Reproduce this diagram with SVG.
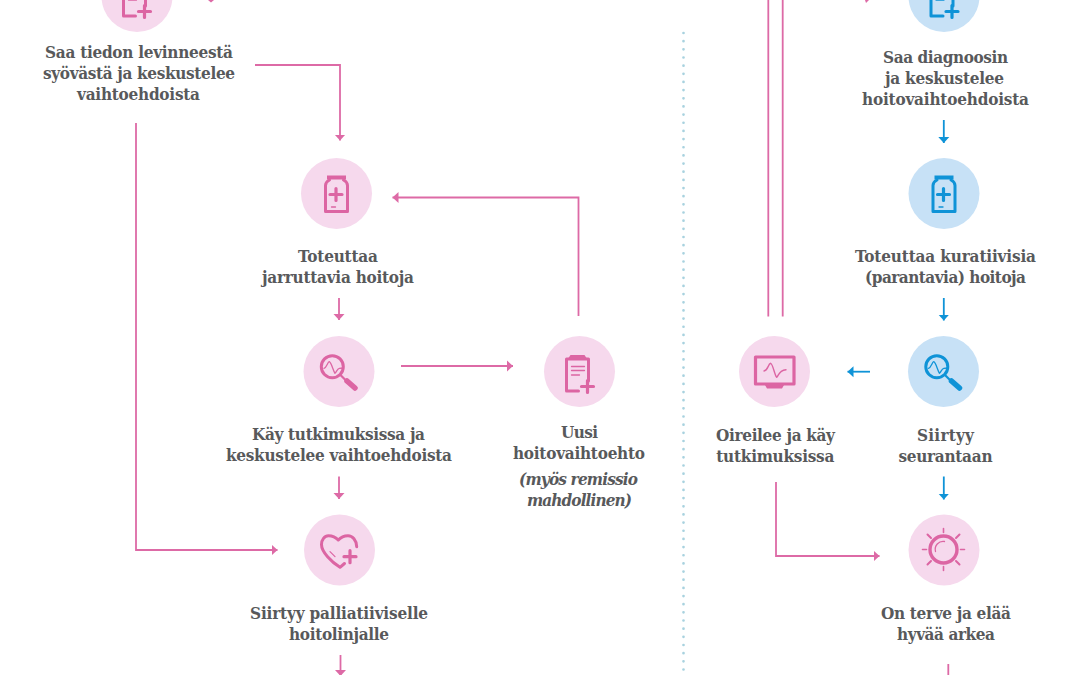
<svg xmlns="http://www.w3.org/2000/svg" width="1080" height="675" viewBox="0 0 1080 675">
<style>
text{font-family:"DejaVu Serif Condensed","Liberation Serif",serif;font-size:17px;font-weight:700;fill:#58595b;text-anchor:middle}
.it{font-style:italic}
.bp{fill:#f6d9ed}.bb{fill:#c7e1f6}
.ip{color:#dc65a3}.ib{color:#0f93d7}
.cp,.cb{fill:none;stroke-width:1.8}
.cp{stroke:#dd6aa6}.cb{stroke:#0f93d7}
.hp{fill:#dd6aa6}.hb{fill:#0f93d7}
.ic{fill:none;stroke:currentColor;stroke-linejoin:round;stroke-linecap:round}
.fl{fill:currentColor;stroke:none}
</style>
<defs>
<marker id="ap" markerUnits="userSpaceOnUse" markerWidth="12" markerHeight="12" refX="6" refY="6" orient="auto"><path class="hp" d="M0 .5L6 6L0 11.500Z"/></marker>
<marker id="ab" markerUnits="userSpaceOnUse" markerWidth="12" markerHeight="12" refX="6" refY="6" orient="auto"><path class="hb" d="M0 .5L6 6L0 11.500Z"/></marker>
<g id="clip">
<path class="ic" stroke-width="3" stroke-linejoin="miter" d="M-1 19.500H-13V-12.500H9V9.500"/>
<path class="fl" d="M-9-16.500H5L8-12H-12Z"/>
<path class="ic" stroke-width="1.300" d="M-8-5H5M-8-1H5M-8 3.500H0"/>
<path class="ic" stroke-width="3.200" stroke-linecap="butt" d="M2 15H14M8 9V21"/>
</g>
<g id="jar">
<path class="fl" d="M-9.500-18H9.500V-14H-9.500Z"/>
<path class="ic" stroke-width="3" d="M-7-13.500C-10-12-11-10-11-8V18H11V-8C11-10 10-12 7-13.500"/>
<path class="ic" stroke-width="3.200" stroke-linecap="butt" d="M-6.500 1H5.500M-.5-5V7"/>
<path class="ic" stroke-width="1.300" d="M-5 13.500H-1"/>
</g>
<g id="mag">
<circle class="ic" cx="-6.700" cy="-4.800" r="11" stroke-width="3"/>
<path class="ic" stroke-width="2.200" d="M1.500 3.500L7 9"/>
<path class="ic" stroke-width="5.500" d="M8 9.500L16 16.500"/>
<path class="ic" stroke-width="1.300" d="M-15-3.200C-12-4-11.500-9.500-9.700-9.800C-7.500-9-6-1-4 1.800C-2.500 1-2-3 .3-3.200L4.300-3.500"/>
</g>
</defs>
<path d="M683.500 33V675" fill="none" stroke="#a8d2df" stroke-width="2.700" stroke-linecap="round" stroke-dasharray="0 8.160"/>
<g id="connectors">
<path class="cp" d="M255 65H340V140.500" marker-end="url(#ap)"/>
<path class="cp" d="M136 123V550H277.500" marker-end="url(#ap)"/>
<path class="cp" d="M578.500 316V197.500H392.500" marker-end="url(#ap)"/>
<path class="cp" d="M339 298V320" marker-end="url(#ap)"/>
<path class="cp" d="M401 366H513" marker-end="url(#ap)"/>
<path class="cp" d="M339 476.500V499" marker-end="url(#ap)"/>
<path class="cp" d="M340.500 655V676" marker-end="url(#ap)"/>
<path class="cp" d="M768.300 0V316.500M782.700 0V316.500"/>
<path class="cp" d="M776 482V556H879.500" marker-end="url(#ap)"/>
<path class="cp" d="M948.300 664V675"/>
<path class="cb" d="M943.800 120V143" marker-end="url(#ab)"/>
<path class="cb" d="M943.800 298V320.500" marker-end="url(#ab)"/>
<path class="cb" d="M943.800 476.500V499.500" marker-end="url(#ab)"/>
<path class="cb" d="M870 371.700H847.500" marker-end="url(#ab)"/>
<path class="hp" d="M208 0H214L211 2.500Z"/>
<path class="hp" d="M865 0H869L866 3Z"/>
</g>
<g id="n1"><circle class="bp" cx="137" cy="-3.500" r="35.500"/><use href="#clip" class="ip" x="136.500" y="-3.500"/>
<text x="139" y="58" textLength="188">Saa tiedon levinneestä</text><text x="139" y="79" textLength="192">syövästä ja keskustelee</text><text x="138.500" y="100" textLength="123">vaihtoehdoista</text></g>
<g id="n2"><circle class="bp" cx="336.500" cy="193.500" r="35.500"/><use href="#jar" class="ip" x="336.500" y="193.500"/>
<text x="338" y="262" textLength="80">Toteuttaa</text><text x="338" y="283" textLength="152">jarruttavia hoitoja</text></g>
<g id="n3"><circle class="bp" cx="339" cy="371.500" r="35.500"/><use href="#mag" class="ip" x="339" y="371.500"/>
<text x="338.500" y="440" textLength="173">Käy tutkimuksissa ja</text><text x="339" y="461" textLength="226">keskustelee vaihtoehdoista</text></g>
<g id="n4"><circle class="bp" cx="579.500" cy="371.500" r="35.500"/><use href="#clip" class="ip" x="579.500" y="371.500"/>
<text x="579.500" y="438" textLength="37">Uusi</text><text x="579" y="459" textLength="132">hoitovaihtoehto</text><text class="it" x="578.500" y="485" textLength="119">(myös remissio</text><text class="it" x="579.500" y="505.500" textLength="105">mahdollinen)</text></g>
<g id="n5"><circle class="bp" cx="339.500" cy="550" r="35.500"/>
<g class="ip" transform="translate(339.500 550)"><path class="ic" stroke-width="3" d="M17.200-3.300C17-10 13-14.300 8.500-14.300C4-14.300 1-12.500-1.200-10C-3.500-12.500-6.500-14.300-11-14.300C-15-14.300-18-10-18-5.500C-18 2-8 12 .5 17.300L5 13.500"/><path class="ic" stroke-width="1.200" d="M-9.500 1.700L-4.500 6.700"/><path class="ic" stroke-width="3.200" stroke-linecap="butt" d="M4.500 6.700H16.500M10.500 .7V12.700"/></g>
<text x="339" y="619" textLength="178">Siirtyy palliatiiviselle</text><text x="339" y="640" textLength="100">hoitolinjalle</text></g>
<g id="n6"><circle class="bb" cx="944" cy="-3.500" r="35.500"/><use href="#clip" class="ib" x="944" y="-3.500"/>
<text x="945.500" y="63" textLength="125">Saa diagnoosin</text><text x="944.500" y="84" textLength="119">ja keskustelee</text><text x="945.500" y="105" textLength="167">hoitovaihtoehdoista</text></g>
<g id="n7"><circle class="bb" cx="944" cy="193.500" r="35.500"/><use href="#jar" class="ib" x="944" y="193.500"/>
<text x="945.500" y="262" textLength="181">Toteuttaa kuratiivisia</text><text x="945.500" y="283" textLength="161">(parantavia) hoitoja</text></g>
<g id="n8"><circle class="bb" cx="943.500" cy="371.500" r="35.500"/><use href="#mag" class="ib" x="943.500" y="371.500"/>
<text x="945.500" y="441" textLength="57">Siirtyy</text><text x="945.500" y="462" textLength="94">seurantaan</text></g>
<g id="n9"><circle class="bp" cx="774.500" cy="371.500" r="35.500"/>
<g class="ip"><rect class="ic" x="755.500" y="357" width="38.500" height="27" stroke-width="3.200"/><path class="fl" d="M765 385H784L782 388.500H767Z"/><path class="ic" stroke-width="1.400" d="M764 371C768 370.500 768 364 770.700 363.300C773 364 774.500 375 776.700 377.300C778.500 376 778.500 370.500 786 369.700"/></g>
<text x="775.500" y="441" textLength="119">Oireilee ja käy</text><text x="775.300" y="462" textLength="118">tutkimuksissa</text></g>
<g id="n10"><circle class="bp" cx="944" cy="550" r="35.500"/>
<g class="ip" transform="translate(943.500 549.500)"><circle class="ic" r="13.500" stroke-width="3.400"/><path class="ic" stroke-width="1.300" d="M-8 2A8 8 0 0 1 1-8"/><path class="ic" stroke-width="1.600" d="M0-21V-17M0 17V21M-21 0H-17M17 0H21"/><path class="ic" stroke-width="2" d="M-16-15L-12.500-11.500M16-15L12.500-11.500M-16 15L-12.500 11.500M16 15L12.500 11.500"/></g>
<text x="946" y="619" textLength="130">On terve ja elää</text><text x="946" y="640" textLength="98">hyvää arkea</text></g>
</svg>
